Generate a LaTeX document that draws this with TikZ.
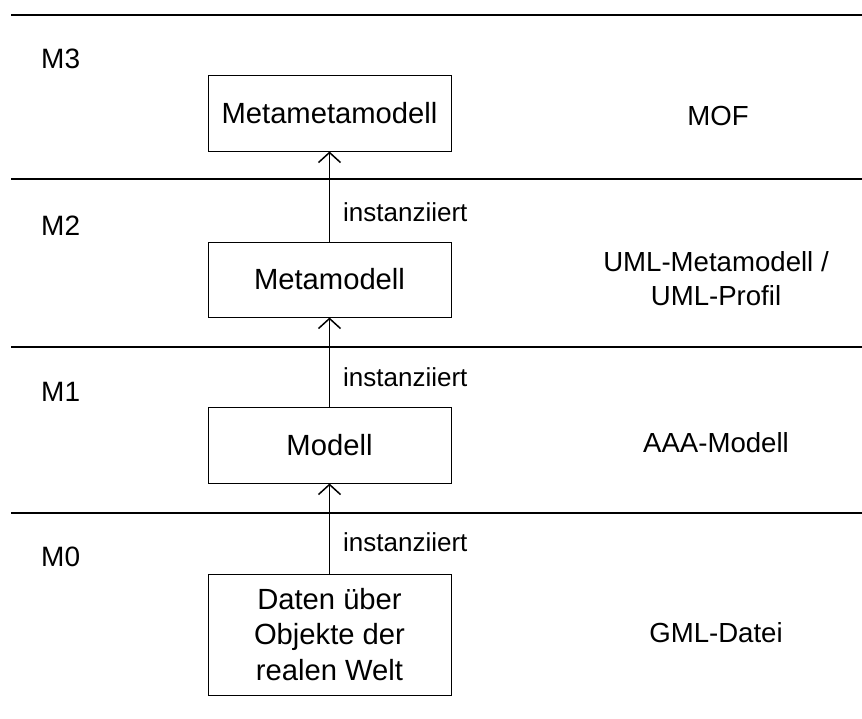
\documentclass[tikz,border=0pt]{standalone}
\usepackage{fontspec}
\setmainfont{Liberation Sans}
\usetikzlibrary{arrows.meta}
\begin{document}
\begin{tikzpicture}[x=1pt,y=-1pt,
  levelbox/.style={draw,line width=1pt,minimum width=243pt,inner sep=0pt,
    font=\fontsize{29.2}{35.5}\selectfont,align=center},
  layerline/.style={line width=2pt},
  layername/.style={anchor=west,inner sep=0pt,font=\fontsize{28}{33}\selectfont},
  techname/.style={inner sep=0pt,align=center,font=\fontsize{27.6}{34}\selectfont},
  instlabel/.style={anchor=west,inner sep=0pt,font=\fontsize{26}{30}\selectfont},
  instarrow/.style={line width=1.5pt,-{Straight Barb[length=10pt,width=22pt,line width=1.5pt]}}]
\useasboundingbox (0,0) rectangle (862,718);

% layer separators
\foreach \name/\yy in {l3/15,l2/179,l1/347,l0/513}{
  \coordinate (\name a) at (11,\yy);
  \coordinate (\name b) at (862,\yy);
  \draw[layerline] (\name a) -- (\name b);
}

% layer names
\node[layername] (m3) at (41,59) {M3};
\node[layername] (m2) at (41,226) {M2};
\node[layername] (m1) at (41,392) {M1};
\node[layername] (m0) at (41,557) {M0};

% model boxes
\node[levelbox,minimum height=76pt] (mmm) at (329.5,113) {Metametamodell};
\node[levelbox,minimum height=75pt] (mm) at (329.5,279.5) {Metamodell};
\node[levelbox,minimum height=76pt] (mod) at (329.5,445) {Modell};
\node[levelbox,minimum height=121pt] (dat) at (329.5,634.5) {Daten über\\Objekte der\\realen Welt};

% instantiation arrows
\draw[instarrow] (mm.north) -- (mmm.south);
\draw[instarrow] (mod.north) -- (mm.south);
\draw[instarrow] (dat.north) -- (mod.south);

\node[instlabel] (i2) at (343,212) {instanziiert};
\node[instlabel] (i1) at (343,377) {instanziiert};
\node[instlabel] (i0) at (343,542) {instanziiert};

% concrete technologies
\node[techname] (mof) at (718,116) {MOF};
\node[techname] (uml) at (716,279) {UML-Metamodell /\\UML-Profil};
\node[techname] (aaa) at (716,443) {AAA-Modell};
\node[techname] (gml) at (716,633) {GML-Datei};
\end{tikzpicture}
\end{document}
